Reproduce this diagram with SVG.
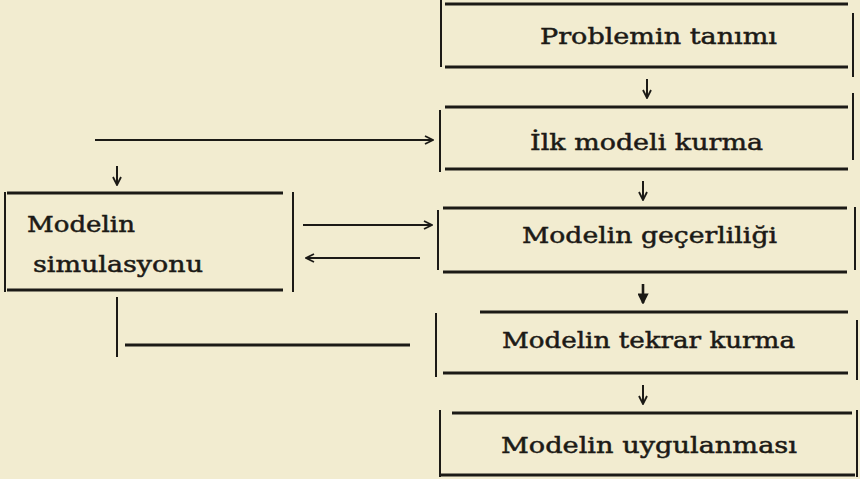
<svg xmlns="http://www.w3.org/2000/svg" width="860" height="479" viewBox="0 0 860 479">
<defs>
<marker id="ah" viewBox="0 0 10 10" refX="9" refY="5" markerWidth="10" markerHeight="10" markerUnits="userSpaceOnUse" orient="auto">
<path d="M1,1 L9,5 L1,9" fill="none" stroke="#1c1a16" stroke-width="1.8"/>
</marker>
<marker id="ahb" viewBox="0 0 10 10" refX="9" refY="5" markerWidth="11" markerHeight="11" markerUnits="userSpaceOnUse" orient="auto">
<path d="M1,1 L9,5 L1,9 Z" fill="#1c1a16" stroke="#1c1a16" stroke-width="1.5"/>
</marker>
</defs>
<style>
.h{stroke:#1c1a16;stroke-width:3;fill:none}
.v{stroke:#1c1a16;stroke-width:2;fill:none}
.c{stroke:#1c1a16;stroke-width:2;fill:none;marker-end:url(#ah)}
.cb{stroke:#1c1a16;stroke-width:2.6;fill:none;marker-end:url(#ahb)}
.p{stroke:#1c1a16;stroke-width:2;fill:none}
text{font-family:"DejaVu Serif","Liberation Serif",serif;font-size:23px;fill:#1c1a16;stroke:#1c1a16;stroke-width:0.5}
</style>
<rect width="860" height="479" fill="#f2ecd0"/>
<g id="n1">
<line class="h" x1="445" y1="4" x2="848" y2="4"/>
<line class="v" x1="441" y1="0" x2="441" y2="67"/>
<line class="h" x1="445" y1="67" x2="848" y2="67"/>
<line class="v" x1="853" y1="13" x2="853" y2="77"/>
<text x="540" y="44" textLength="237" lengthAdjust="spacingAndGlyphs">Problemin tanımı</text>
</g>
<g id="n2">
<line class="h" x1="445" y1="107" x2="848" y2="107"/>
<line class="v" x1="440" y1="110" x2="440" y2="172"/>
<line class="h" x1="445" y1="169" x2="848" y2="169"/>
<line class="v" x1="853" y1="93" x2="853" y2="160"/>
<text x="530" y="150" textLength="233" lengthAdjust="spacingAndGlyphs">İlk modeli kurma</text>
</g>
<g id="n3">
<line class="h" x1="443" y1="208" x2="847" y2="208"/>
<line class="v" x1="438" y1="210" x2="438" y2="270"/>
<line class="h" x1="443" y1="272" x2="847" y2="272"/>
<line class="v" x1="855" y1="207" x2="855" y2="270"/>
<text x="522" y="243" textLength="255" lengthAdjust="spacingAndGlyphs">Modelin  geçerliliği</text>
</g>
<g id="n4">
<line class="h" x1="480" y1="312" x2="848" y2="312"/>
<line class="v" x1="436" y1="313" x2="436" y2="377"/>
<line class="h" x1="443" y1="373" x2="848" y2="373"/>
<line class="v" x1="857" y1="320" x2="857" y2="380"/>
<text x="502" y="348" textLength="293" lengthAdjust="spacingAndGlyphs">Modelin tekrar kurma</text>
</g>
<g id="n5">
<line class="h" x1="452" y1="413" x2="852" y2="413"/>
<line class="v" x1="440" y1="410" x2="440" y2="477"/>
<line class="h" x1="440" y1="475" x2="855" y2="475"/>
<line class="v" x1="857" y1="410" x2="857" y2="477"/>
<text x="501" y="453" textLength="296" lengthAdjust="spacingAndGlyphs">Modelin  uygulanması</text>
</g>
<g id="n6">
<line class="h" x1="7" y1="193" x2="283" y2="193"/>
<line class="v" x1="5" y1="192" x2="5" y2="292"/>
<line class="v" x1="293" y1="192" x2="293" y2="292"/>
<line class="h" x1="7" y1="290" x2="283" y2="290"/>
<text x="27" y="232" textLength="108" lengthAdjust="spacingAndGlyphs">Modelin</text>
<text x="33" y="272" textLength="170" lengthAdjust="spacingAndGlyphs">simulasyonu</text>
</g>
<g id="connectors">
<line class="c" x1="95" y1="140" x2="433" y2="140"/>
<line class="c" x1="117" y1="166" x2="117" y2="185"/>
<line class="c" x1="303" y1="225" x2="432" y2="225"/>
<line class="c" x1="420" y1="258" x2="306" y2="258"/>
<line class="c" x1="647" y1="79" x2="647" y2="98"/>
<line class="c" x1="643" y1="181" x2="643" y2="200"/>
<line class="cb" x1="643" y1="284" x2="643" y2="303"/>
<line class="c" x1="643" y1="385" x2="643" y2="404"/>
<line class="p" x1="117" y1="297" x2="117" y2="357"/>
<line class="h" x1="125" y1="345" x2="410" y2="345"/>
</g>
</svg>
